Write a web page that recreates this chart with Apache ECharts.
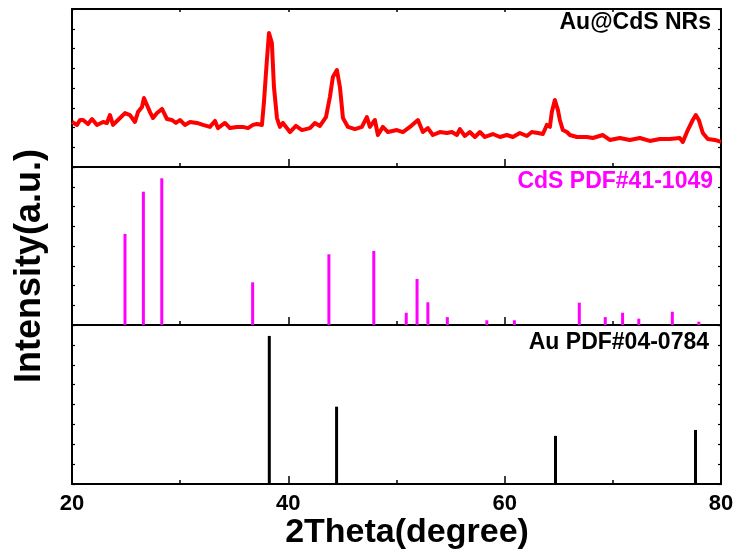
<!DOCTYPE html>
<html>
<head>
<meta charset="utf-8">
<script src="https://cdn.jsdelivr.net/npm/echarts@6/dist/echarts.min.js"></script>
<style>html,body{margin:0;padding:0;background:#fff;}#chart{width:740px;height:560px;}</style>
</head>
<body>
<div id="chart"></div>
<script>
// ---- Data ----
var xRange = [20, 80];
var xTickLabels = ['20', '40', '60', '80'];
var panelLabels = ['Au@CdS NRs', 'CdS PDF#41-1049', 'Au PDF#04-0784'];
var xTitle = '2Theta(degree)';
var yTitle = 'Intensity(a.u.)';

// Au@CdS NRs measured pattern (2theta, intensity in panel units 0-8)
var xrdTheta = [20.00,20.46,20.74,21.02,21.48,21.85,22.31,22.87,23.23,23.51,23.79,24.25,24.90,25.36,25.82,26.10,26.47,26.65,26.93,27.21,27.49,27.86,28.32,28.78,29.24,29.61,29.98,30.44,30.91,31.55,32.11,32.75,33.22,33.49,34.14,34.60,35.25,35.80,36.27,36.73,37.10,37.56,37.74,38.02,38.21,38.48,38.67,38.95,39.22,39.50,40.15,40.70,41.26,42.00,42.46,42.92,43.48,43.84,44.12,44.49,44.77,45.05,45.51,46.16,46.80,47.26,47.54,48.00,48.28,48.74,49.21,50.04,50.59,51.24,51.98,52.44,52.90,53.36,54.01,54.66,55.12,55.58,55.86,56.32,56.78,57.25,57.71,58.17,58.91,59.56,60.20,60.76,61.40,62.05,62.51,63.07,63.53,63.90,64.18,64.36,64.64,64.92,65.10,65.38,65.75,66.03,66.67,67.60,68.15,69.08,69.72,70.65,71.57,72.50,73.42,74.34,75.27,76.19,76.47,76.93,77.39,77.67,77.95,78.32,78.78,79.43,80.00];
var xrdIntensity = [2.28,2.13,2.38,2.38,2.18,2.43,2.13,2.28,2.23,2.63,2.13,2.38,2.73,2.63,2.28,2.78,3.04,3.49,3.14,2.78,2.48,2.73,2.94,2.43,2.38,2.23,2.38,2.13,2.28,2.23,2.13,2.03,2.33,1.97,2.23,1.97,2.03,2.03,1.97,2.13,2.18,2.13,3.24,5.42,6.78,6.28,4.05,2.48,2.03,2.23,1.77,2.08,1.87,1.97,2.23,2.08,2.53,3.54,4.56,4.91,4.05,2.48,2.03,1.92,2.03,2.53,2.03,2.38,1.62,2.03,1.77,1.87,1.77,2.03,2.38,1.77,1.97,1.62,1.77,1.72,1.77,1.62,1.92,1.57,1.77,1.52,1.77,1.52,1.67,1.52,1.62,1.52,1.72,1.57,1.77,1.72,1.67,2.13,2.03,2.78,3.39,2.89,2.38,1.87,1.77,1.62,1.52,1.52,1.47,1.62,1.37,1.47,1.37,1.47,1.32,1.42,1.42,1.47,1.27,1.87,2.38,2.63,2.38,1.72,1.42,1.37,1.27];

// CdS PDF#41-1049 reference lines
var cdsTheta = [24.9,26.6,28.3,36.7,43.75,47.9,50.9,51.9,52.9,54.7,58.35,60.9,66.9,69.3,70.9,72.4,75.5,77.95];
var cdsIntensity = [4.61,6.75,7.43,2.16,3.58,3.75,0.62,2.33,1.15,0.40,0.24,0.24,1.13,0.40,0.62,0.32,0.67,0.17];

// Au PDF#04-0784 reference lines
var auTheta = [38.24,44.46,64.7,77.64];
var auIntensity = [7.45,3.89,2.42,2.72];

// ---- Build ----
var FONT = '"Liberation Sans", Arial, sans-serif';
function zip(a, b) { return a.map(function (v, i) { return [v, b[i]]; }); }

var grids = [
  { left: 72, width: 649, top: 9, height: 158 },
  { left: 72, width: 649, top: 167, height: 158 },
  { left: 72, width: 649, top: 325, height: 159 }
];
var axisLine = { show: true, onZero: false, lineStyle: { color: '#000', width: 2 } };
var xAxes = [], yAxes = [];
grids.forEach(function (g, i) {
  xAxes.push({
    gridIndex: i, type: 'value', min: xRange[0], max: xRange[1], interval: 20, position: 'bottom',
    axisLine: axisLine,
    axisTick: { show: true, inside: true, length: 8, lineStyle: { color: '#000', width: 1.5 } },
    minorTick: { show: true, splitNumber: 2, length: 4, lineStyle: { color: '#000', width: 1.5 } },
    splitLine: { show: false }, minorSplitLine: { show: false },
    axisLabel: {
      show: i === 2, margin: 9, color: '#000', fontFamily: FONT, fontWeight: 'bold', fontSize: 22,
      formatter: function (v) { var s = String(v); return xTickLabels.indexOf(s) >= 0 ? s : ''; }
    }
  });
  xAxes.push({
    gridIndex: i, type: 'value', min: xRange[0], max: xRange[1], interval: 20, position: 'top',
    axisLine: axisLine,
    axisTick: { show: i === 0, inside: true, length: 3, lineStyle: { color: '#000', width: 1.5 } },
    minorTick: { show: i === 0, splitNumber: 2, length: 3, lineStyle: { color: '#000', width: 1.5 } },
    splitLine: { show: false }, axisLabel: { show: false }
  });
  ['left', 'right'].forEach(function (pos) {
    yAxes.push({
      gridIndex: i, type: 'value', min: 0, max: 8, interval: 1, position: pos,
      axisLine: axisLine,
      axisTick: { show: true, inside: true, length: 3, lineStyle: { color: '#000', width: 1.2 } },
      splitLine: { show: false }, axisLabel: { show: false }
    });
  });
});

function stickSeries(xs, ys, color, gi) {
  return {
    type: 'custom', xAxisIndex: gi * 2, yAxisIndex: gi * 2, clip: false,
    data: zip(xs, ys),
    renderItem: function (params, api) {
      var x = api.value(0), h = api.value(1);
      var p0 = api.coord([x, 0]), p1 = api.coord([x, h]);
      return { type: 'line', shape: { x1: p0[0], y1: p0[1], x2: p1[0], y2: p1[1] },
               style: { stroke: color, lineWidth: 3 } };
    }
  };
}

var labelStyle = function (txt, x, y, color) {
  return { type: 'text', x: x, y: y, style: { text: txt, fill: color, font: 'bold 23px ' + FONT, textAlign: 'right', textVerticalAlign: 'middle' } };
};

var option = {
  animation: false,
  backgroundColor: '#fff',
  grid: grids,
  xAxis: xAxes,
  yAxis: yAxes,
  series: [
    { type: 'line', xAxisIndex: 0, yAxisIndex: 0, data: zip(xrdTheta, xrdIntensity), showSymbol: false, symbol: 'none',
      lineStyle: { color: '#ff0000', width: 4, join: 'round' }, z: 3 },
    stickSeries(cdsTheta, cdsIntensity, '#ff00ff', 1),
    stickSeries(auTheta, auIntensity, '#000000', 2)
  ],
  graphic: [
    labelStyle(panelLabels[0], 711, 23, '#000'),
    labelStyle(panelLabels[1], 713, 182, '#ff00ff'),
    labelStyle(panelLabels[2], 709, 343, '#000'),
    { type: 'text', x: 407, y: 533, style: { text: xTitle, fill: '#000', font: 'bold 34px ' + FONT, textAlign: 'center', textVerticalAlign: 'middle' } },
    { type: 'text', x: 30, y: 266, rotation: Math.PI / 2, style: { text: yTitle, fill: '#000', font: 'bold 36px ' + FONT, textAlign: 'center', textVerticalAlign: 'middle' } }
  ]
};
var chart = echarts.init(document.getElementById('chart'), null, { renderer: 'canvas' });
chart.setOption(option);
</script>
</body>
</html>
